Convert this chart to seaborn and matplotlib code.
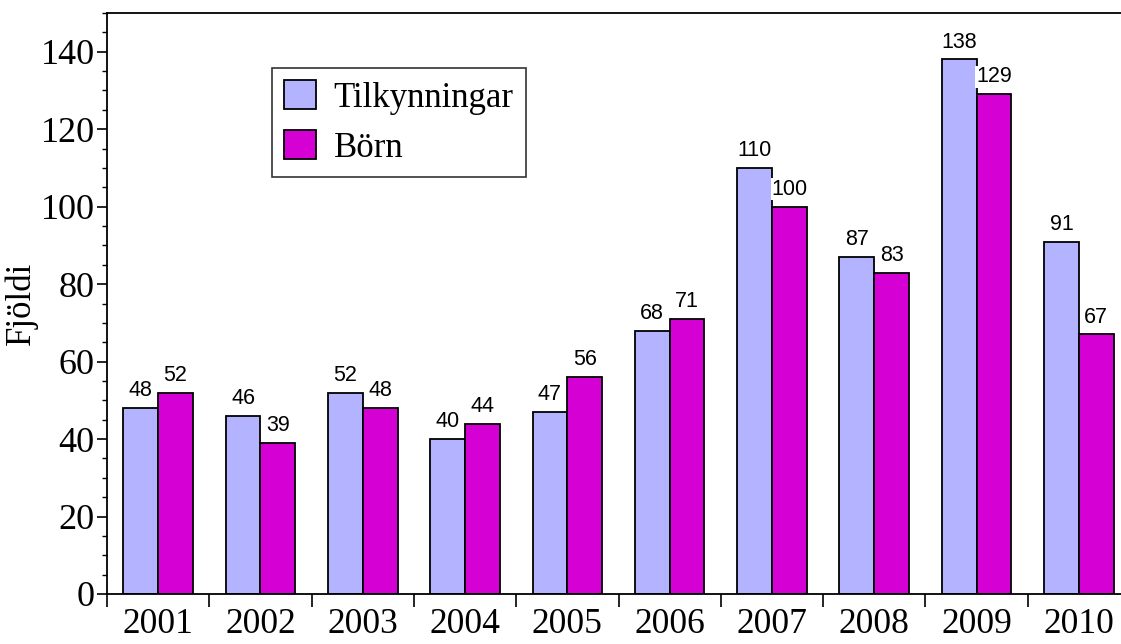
import matplotlib
matplotlib.use('Agg')
import matplotlib.pyplot as plt
import pandas as pd
import seaborn as sns
from matplotlib.ticker import MultipleLocator, FixedLocator

years = ['2001', '2002', '2003', '2004', '2005', '2006', '2007', '2008', '2009', '2010']
tilkynningar = [48, 46, 52, 40, 47, 68, 110, 87, 138, 91]
born = [52, 39, 48, 44, 56, 71, 100, 83, 129, 67]
series_names = ['Tilkynningar', 'Börn']
colors = ['#b3b3ff', '#d400d4']

df = pd.DataFrame({
    'year': years * 2,
    'value': tilkynningar + born,
    'series': [series_names[0]] * len(years) + [series_names[1]] * len(years),
})

sns.set_style('white')
plt.rcParams['font.family'] = ['Liberation Serif', 'DejaVu Serif']
plt.rcParams['text.color'] = 'black'
plt.rcParams['xtick.color'] = 'black'
plt.rcParams['ytick.color'] = 'black'
plt.rcParams['axes.labelcolor'] = 'black'

fig = plt.figure(figsize=(11.21, 6.44), dpi=100)
ax = fig.add_axes([107 / 1121, 50 / 644, 1023 / 1121, 581 / 644])

sns.barplot(data=df, x='year', y='value', hue='series', palette=colors,
            saturation=1, edgecolor='black', linewidth=1.3, width=0.68, ax=ax)

ax.set_xlim(-0.5, len(years) - 0.5)
ax.set_ylim(0, 150)

for container in ax.containers:
    ax.bar_label(container, padding=5, fontsize=15.5, family='Liberation Sans',
                 color='black',
                 bbox=dict(facecolor='white', edgecolor='none', pad=0.5))

# ticks
ax.yaxis.set_major_locator(MultipleLocator(20))
ax.yaxis.set_minor_locator(MultipleLocator(5))
ax.xaxis.set_minor_locator(FixedLocator([i - 0.5 for i in range(len(years) + 1)]))
ax.tick_params(axis='y', which='major', direction='out', length=7, width=1.2,
               labelsize=26, left=True, pad=2)
ax.tick_params(axis='y', which='minor', direction='out', length=3.5, width=1, left=True)
ax.tick_params(axis='x', which='major', length=0, labelsize=25.5, pad=10)
ax.tick_params(axis='x', which='minor', direction='out', length=9, width=1.2, bottom=True)

for side in ['left', 'bottom', 'top', 'right']:
    ax.spines[side].set_visible(True)
    ax.spines[side].set_color('black')
    ax.spines[side].set_linewidth(1.3)

ax.set_xlabel('')
ax.set_ylabel('Fjöldi', fontsize=25, labelpad=2)

leg = ax.legend(loc='upper left', bbox_to_anchor=(165 / 1023, 1 - 55 / 581),
                fontsize=25, frameon=True, fancybox=False, edgecolor='black',
                handlelength=0.92, handleheight=0.9, handletextpad=0.5,
                borderpad=0.35, labelspacing=0.45, borderaxespad=0)
leg.get_frame().set_linewidth(1.2)

fig.savefig('out.png', dpi=100)
